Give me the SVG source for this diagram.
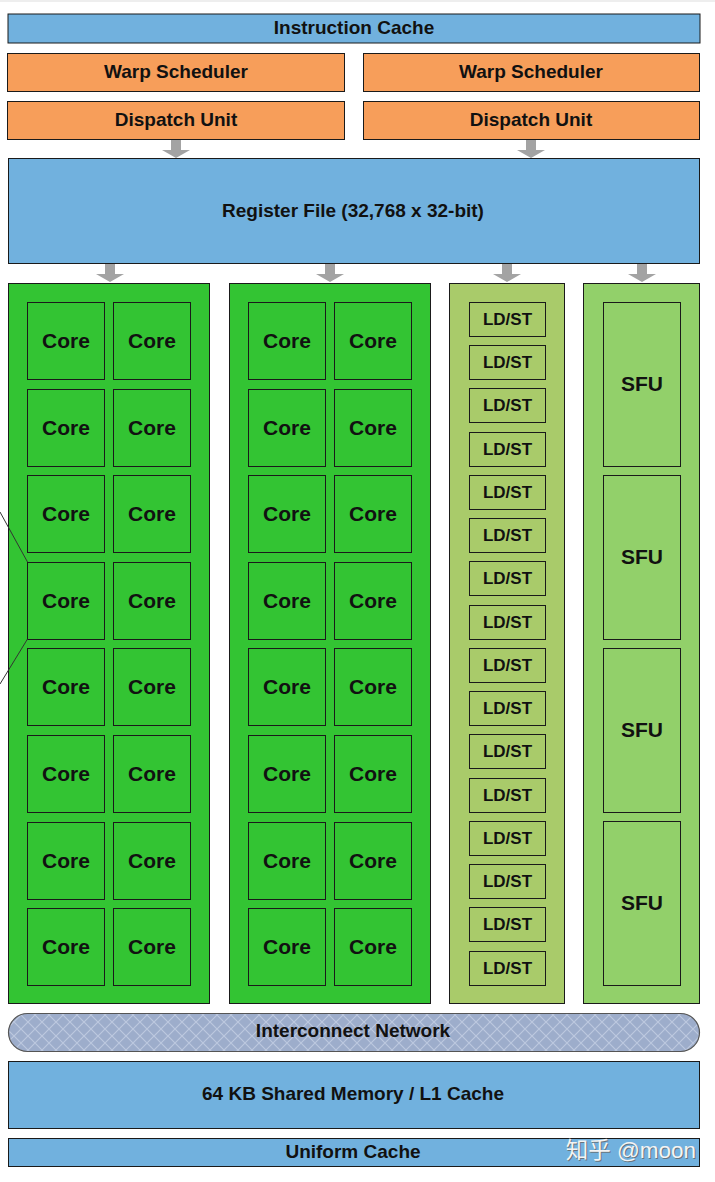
<svg xmlns="http://www.w3.org/2000/svg" width="715" height="1182" viewBox="0 0 715 1182">
<style>
.t{font-family:"Liberation Sans",Arial,sans-serif;font-weight:bold;fill:#111;text-anchor:middle;dominant-baseline:central}
.lbl{font-size:19px}
.blue{fill:#71B1DE;stroke:#1a1a1a;stroke-width:1}
.orange{fill:#F79E5A;stroke:#1a1a1a;stroke-width:1}
.green{fill:#33C433;stroke:#1a1a1a;stroke-width:1}
.ldblk{fill:#A9CB6A;stroke:#1a1a1a;stroke-width:1}
.sfublk{fill:#92D06A;stroke:#1a1a1a;stroke-width:1}
.box{fill:none;stroke:#1a1a1a;stroke-width:1}
.arr{fill:#A3A3A3}
.core{font-size:21px}
.ld{font-size:17px}
</style>
<defs>
<polygon id="arrow" points="-5,0 5,0 5,10 14,10 0,18 -14,10 -5,10" class="arr"/>
<pattern id="hatch" width="14" height="14" patternUnits="userSpaceOnUse">
<rect width="14" height="14" fill="#9DADCB"/>
<path d="M0,0 L14,14 M14,0 L0,14" stroke="#BCC8DF" stroke-width="1.2"/>
</pattern>
<g id="core"><rect width="77" height="77" class="box"/><text x="38.5" y="38" class="t core">Core</text></g>
<g id="ldst"><rect width="76" height="34" class="box"/><text x="38" y="17" class="t ld">LD/ST</text></g>
<g id="sfu"><rect width="77" height="164" class="box"/><text x="38.5" y="81" class="t core">SFU</text></g>
</defs>
<rect width="715" height="1182" fill="#fff"/>
<line x1="0" y1="1" x2="715" y2="1" stroke="#ddd"/>
<g id="connectors">
<use href="#arrow" x="176" y="140"/>
<use href="#arrow" x="531" y="140"/>
<use href="#arrow" x="110" y="264"/>
<use href="#arrow" x="330" y="264"/>
<use href="#arrow" x="507" y="264"/>
<use href="#arrow" x="642" y="264"/>
</g>
<g id="instruction-cache"><rect x="8" y="14" width="692" height="29" class="blue"/><text x="354" y="27" class="t lbl">Instruction Cache</text></g>
<g id="warp-scheduler-1"><rect x="7.5" y="53.5" width="337" height="38" class="orange"/><text x="176" y="71" class="t lbl">Warp Scheduler</text></g>
<g id="warp-scheduler-2"><rect x="363.5" y="53.5" width="336" height="38" class="orange"/><text x="531" y="71" class="t lbl">Warp Scheduler</text></g>
<g id="dispatch-unit-1"><rect x="7.5" y="101.5" width="337" height="38" class="orange"/><text x="176" y="119" class="t lbl">Dispatch Unit</text></g>
<g id="dispatch-unit-2"><rect x="363.5" y="101.5" width="336" height="38" class="orange"/><text x="531" y="119" class="t lbl">Dispatch Unit</text></g>
<g id="register-file"><rect x="8.5" y="158.5" width="691" height="105" class="blue"/><text x="353" y="210" class="t lbl">Register File (32,768 x 32-bit)</text></g>
<g id="core-block-1">
<rect x="8.5" y="283.5" width="201" height="720" class="green"/>
<use href="#core" x="27.5" y="302.5"/><use href="#core" x="113.5" y="302.5"/>
<use href="#core" x="27.5" y="389.5"/><use href="#core" x="113.5" y="389.5"/>
<use href="#core" x="27.5" y="475.5"/><use href="#core" x="113.5" y="475.5"/>
<use href="#core" x="27.5" y="562.5"/><use href="#core" x="113.5" y="562.5"/>
<use href="#core" x="27.5" y="648.5"/><use href="#core" x="113.5" y="648.5"/>
<use href="#core" x="27.5" y="735.5"/><use href="#core" x="113.5" y="735.5"/>
<use href="#core" x="27.5" y="822.5"/><use href="#core" x="113.5" y="822.5"/>
<use href="#core" x="27.5" y="908.5"/><use href="#core" x="113.5" y="908.5"/>
</g>
<g id="core-block-2">
<rect x="229.5" y="283.5" width="201" height="720" class="green"/>
<use href="#core" x="248.5" y="302.5"/><use href="#core" x="334.5" y="302.5"/>
<use href="#core" x="248.5" y="389.5"/><use href="#core" x="334.5" y="389.5"/>
<use href="#core" x="248.5" y="475.5"/><use href="#core" x="334.5" y="475.5"/>
<use href="#core" x="248.5" y="562.5"/><use href="#core" x="334.5" y="562.5"/>
<use href="#core" x="248.5" y="648.5"/><use href="#core" x="334.5" y="648.5"/>
<use href="#core" x="248.5" y="735.5"/><use href="#core" x="334.5" y="735.5"/>
<use href="#core" x="248.5" y="822.5"/><use href="#core" x="334.5" y="822.5"/>
<use href="#core" x="248.5" y="908.5"/><use href="#core" x="334.5" y="908.5"/>
</g>
<g id="ldst-block">
<rect x="449.5" y="283.5" width="115" height="720" class="ldblk"/>
<use href="#ldst" x="469.5" y="302.5"/>
<use href="#ldst" x="469.5" y="345.5"/>
<use href="#ldst" x="469.5" y="388.5"/>
<use href="#ldst" x="469.5" y="432.5"/>
<use href="#ldst" x="469.5" y="475.5"/>
<use href="#ldst" x="469.5" y="518.5"/>
<use href="#ldst" x="469.5" y="561.5"/>
<use href="#ldst" x="469.5" y="605.5"/>
<use href="#ldst" x="469.5" y="648.5"/>
<use href="#ldst" x="469.5" y="691.5"/>
<use href="#ldst" x="469.5" y="734.5"/>
<use href="#ldst" x="469.5" y="778.5"/>
<use href="#ldst" x="469.5" y="821.5"/>
<use href="#ldst" x="469.5" y="864.5"/>
<use href="#ldst" x="469.5" y="907.5"/>
<use href="#ldst" x="469.5" y="951.5"/>
</g>
<g id="sfu-block">
<rect x="583.5" y="283.5" width="116" height="720" class="sfublk"/>
<use href="#sfu" x="603.5" y="302.5"/>
<use href="#sfu" x="603.5" y="475.5"/>
<use href="#sfu" x="603.5" y="648.5"/>
<use href="#sfu" x="603.5" y="821.5"/>
</g>
<g id="zoom-lines">
<line x1="0" y1="512" x2="27.5" y2="562" stroke="#333" stroke-width="1"/>
<line x1="27.5" y1="639" x2="0" y2="684" stroke="#333" stroke-width="1"/>
</g>
<g id="interconnect-network"><rect x="8.5" y="1013.5" width="691" height="38" rx="19" ry="19" fill="url(#hatch)" stroke="#555" stroke-width="1.2"/><text x="353" y="1030" class="t lbl">Interconnect Network</text></g>
<g id="shared-memory"><rect x="8.5" y="1061.5" width="691" height="67" class="blue"/><text x="353" y="1093" class="t lbl">64 KB Shared Memory / L1 Cache</text></g>
<g id="uniform-cache"><rect x="8.5" y="1138.5" width="691" height="28" class="blue"/><text x="353" y="1151" class="t lbl">Uniform Cache</text></g>
<text x="696" y="1150" font-family="'Liberation Sans','Noto Sans CJK SC',sans-serif" font-size="22.5" fill="#666" text-anchor="end" dominant-baseline="central" opacity="0.8" transform="translate(1,1)">知乎 @moon</text>
<text x="696" y="1150" font-family="'Liberation Sans','Noto Sans CJK SC',sans-serif" font-size="22.5" fill="#f4f4f4" text-anchor="end" dominant-baseline="central">知乎 @moon</text>
</svg>
